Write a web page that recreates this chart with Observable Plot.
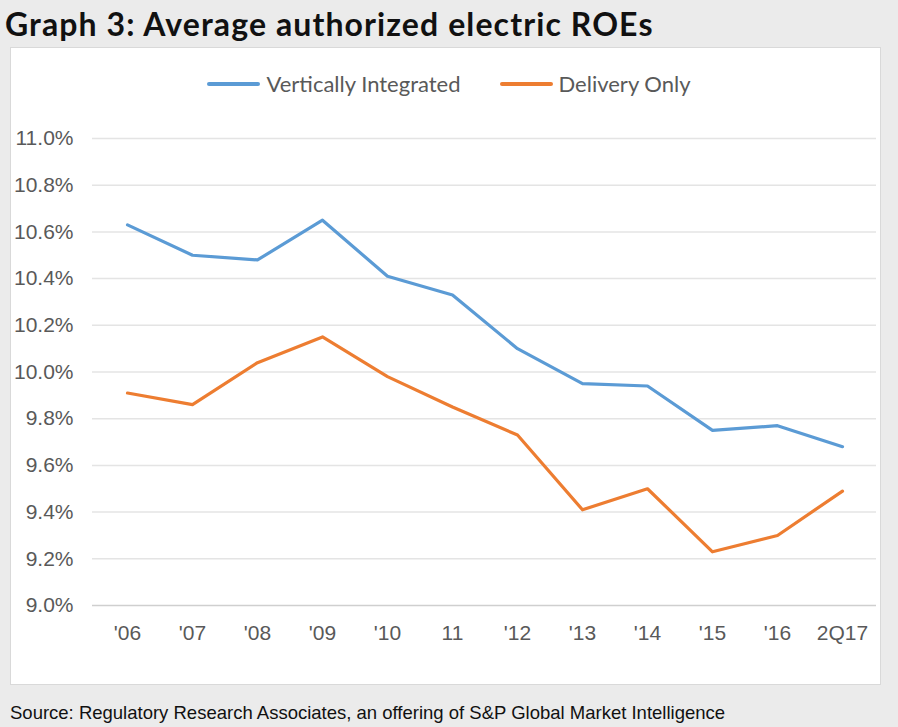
<!DOCTYPE html>
<html>
<head>
<meta charset="utf-8">
<script src="https://cdn.jsdelivr.net/npm/d3@7"></script>
<script src="https://cdn.jsdelivr.net/npm/@observablehq/plot@0.6"></script>
<style>
  html, body { margin: 0; padding: 0; }
  body { width: 898px; height: 727px; background: #ebebeb; position: relative; overflow: hidden; }
  #title { position: absolute; left: 5px; top: 5px; font-family: Lato, sans-serif; font-weight: 700; font-size: 32px; letter-spacing: 1.1px; line-height: 1.2; color: #111; white-space: nowrap; }
  #panel { position: absolute; left: 10px; top: 47px; width: 869px; height: 636px; background: #fff; border: 1px solid #d9d9d9; }
  #legend { position: absolute; top: 70px; left: 0; width: 898px; display: flex; justify-content: center; font-family: Lato, sans-serif; font-size: 22px; color: #595959; line-height: 28px; }
  #legend .item { display: flex; align-items: center; margin: 0 19.5px; }
  #legend .sw { width: 53px; height: 3.5px; border-radius: 2px; margin-right: 6px; }
  #chart { position: absolute; left: 10px; top: 100px; }
  #source { position: absolute; left: 10px; top: 704px; font-family: "Liberation Sans", Arial, sans-serif; font-size: 18.5px; line-height: 1; color: #111; white-space: nowrap; }
</style>
</head>
<body>
<div id="title">Graph 3: Average authorized electric ROEs</div>
<div id="panel"></div>
<div id="legend"></div>
<div id="chart"></div>
<div id="source">Source: Regulatory Research Associates, an offering of S&amp;P Global Market Intelligence</div>
<script>
const periods = ["'06", "'07", "'08", "'09", "'10", "11", "'12", "'13", "'14", "'15", "'16", "2Q17"];
const verticallyIntegrated = [10.63, 10.50, 10.48, 10.65, 10.41, 10.33, 10.10, 9.95, 9.94, 9.75, 9.77, 9.68];
const deliveryOnly = [9.91, 9.86, 10.04, 10.15, 9.98, 9.85, 9.73, 9.41, 9.50, 9.23, 9.30, 9.49];
const seriesNames = ["Vertically Integrated", "Delivery Only"];
const seriesColors = ["#5b9bd5", "#ed7d31"];
const yTicks = [9.0, 9.2, 9.4, 9.6, 9.8, 10.0, 10.2, 10.4, 10.6, 10.8, 11.0];

const rows = [];
periods.forEach((p, i) => {
  rows.push({period: p, value: verticallyIntegrated[i], series: seriesNames[0]});
  rows.push({period: p, value: deliveryOnly[i], series: seriesNames[1]});
});

const legend = document.getElementById("legend");
seriesNames.forEach((n, i) => {
  const it = document.createElement("div");
  it.className = "item";
  it.innerHTML = `<span class="sw" style="background:${seriesColors[i]}"></span><span>${n}</span>`;
  legend.appendChild(it);
});

const chart = Plot.plot({
  width: 870,
  height: 565,
  marginLeft: 82,
  marginRight: 4,
  marginTop: 38,
  marginBottom: 60,
  style: {fontFamily: "'Liberation Sans', Arial, sans-serif", fontSize: "21px", color: "#595959", background: "transparent"},
  x: {type: "point", domain: periods, padding: 0.5, label: null},
  y: {domain: [9, 11], label: null},
  color: {domain: seriesNames, range: seriesColors},
  marks: [
    Plot.gridY(yTicks.filter(d => d > 9), {stroke: "#e4e4e4", strokeWidth: 1.5, strokeOpacity: 1}),
    Plot.ruleY([9], {stroke: "#cfcfcf", strokeWidth: 1.5}),
    Plot.axisY(yTicks, {tickSize: 0, tickPadding: 19, tickFormat: d => d.toFixed(1) + "%", fill: "#595959", label: null}),
    Plot.axisX({tickSize: 0, tickPadding: 20, fill: "#595959", label: null}),
    Plot.line(rows, {x: "period", y: "value", z: "series", stroke: "series", strokeWidth: 3.2, strokeLinejoin: "round", strokeLinecap: "round"})
  ]
});
document.getElementById("chart").appendChild(chart);
</script>
</body>
</html>
